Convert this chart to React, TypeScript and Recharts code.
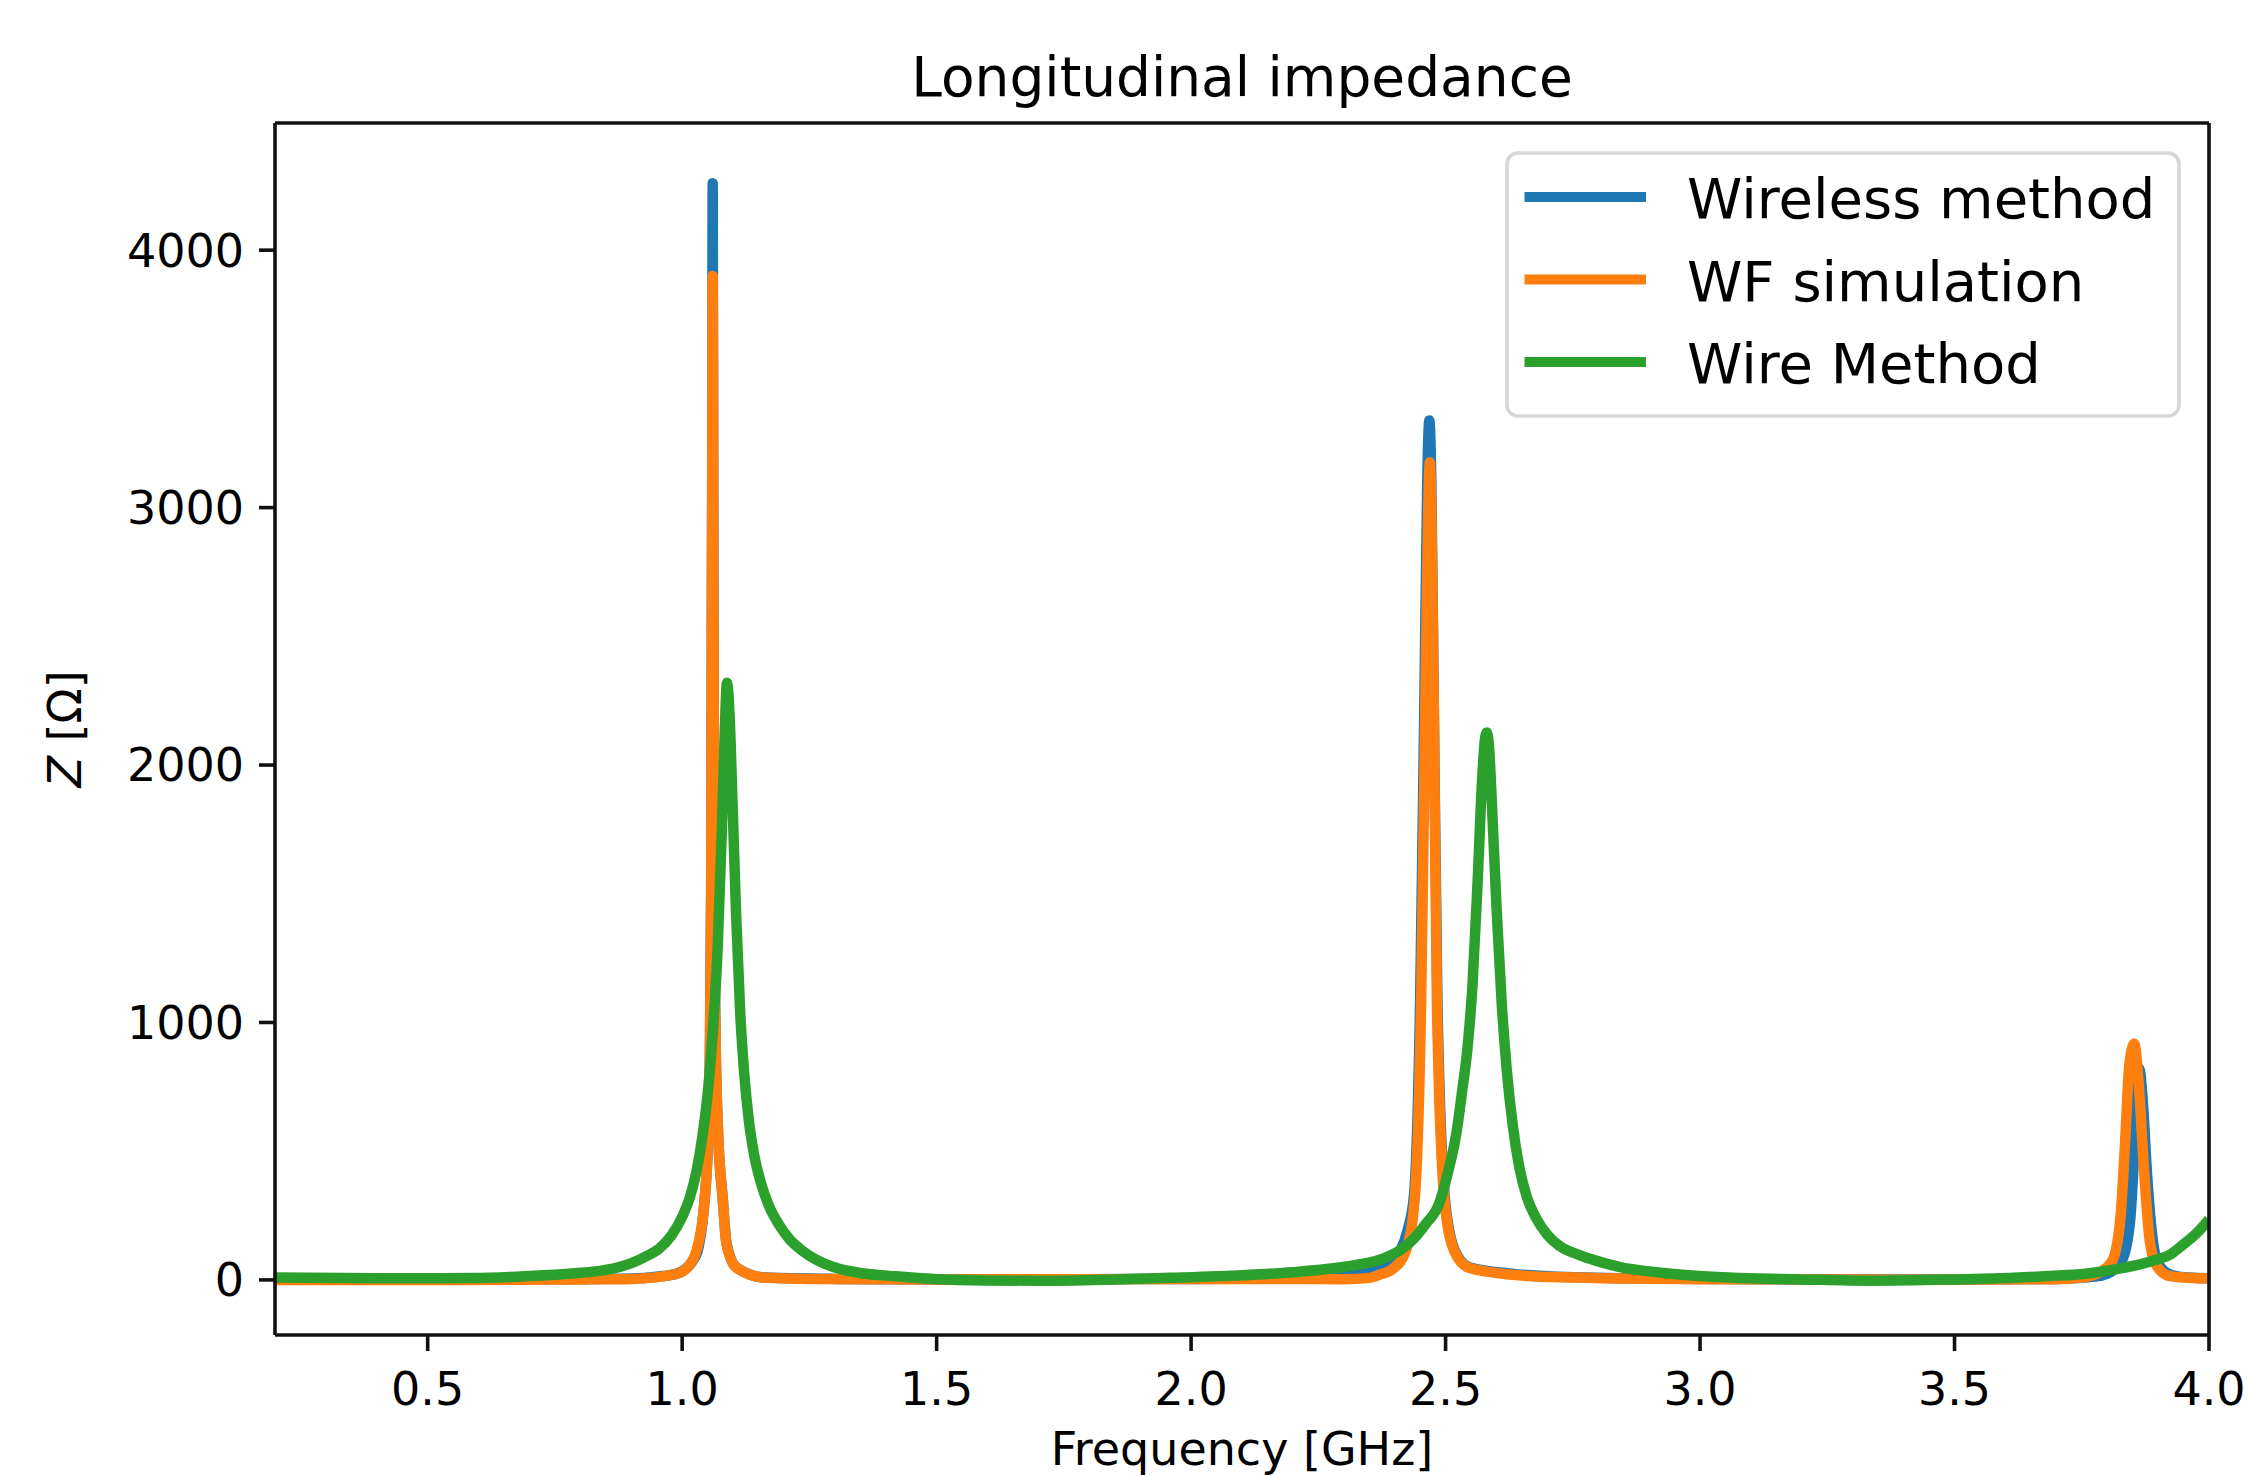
import React from "react";
import { LineChart, Line, XAxis, YAxis, Legend, ReferenceLine, Label } from "recharts";

const W = 2248;
const H = 1476;
const FONT = "'DejaVu Sans', sans-serif";

const X_TICKS = [0.5, 1.0, 1.5, 2.0, 2.5, 3.0, 3.5, 4.0];
const Y_TICKS = [0, 1000, 2000, 3000, 4000];
const X_DOMAIN = [0.2, 4.0];
const Y_DOMAIN = [-214, 4494];

const NAMES = ["Wireless method", "WF simulation", "Wire Method"];
const COLORS = ["#1f77b4", "#ff7f0e", "#2ca02c"];

// Wireless method (blue)
const WIRELESS_F = [
  0.2, 0.4, 0.6, 0.8, 0.9, 0.95, 0.99, 1.02, 1.03, 1.044, 1.05, 1.054, 1.057, 1.059, 1.06, 1.061,
  1.063, 1.066, 1.07, 1.08, 1.087, 1.107, 1.165, 1.3, 1.5, 1.8, 2.0, 2.2, 2.3, 2.35, 2.38, 2.41,
  2.425, 2.438, 2.45, 2.458, 2.464, 2.468, 2.472, 2.477, 2.484, 2.499, 2.518, 2.548, 2.63, 2.72,
  2.9, 3.2, 3.5, 3.7, 3.78, 3.81, 3.83, 3.845, 3.855, 3.863, 3.87, 3.878, 3.888, 3.9, 3.925, 3.96, 4.0,
];
const WIRELESS_Z = [
  1, 1, 2, 3, 5, 12, 25, 72, 110, 310, 500, 800, 1500, 3200, 4260, 3200,
  1500, 900, 600, 310, 145, 48, 9, 4, 2, 3, 4, 8, 18, 32, 55, 110,
  190, 330, 1084, 2200, 3100, 3338, 3100, 2200, 1084, 310, 115, 48, 24, 12,
  5, 2, 2, 4, 14, 35, 80, 230, 560, 820, 690, 420, 180, 65, 20, 9, 6,
];

// WF simulation (orange)
const WF_F = [
  0.2, 0.5, 0.8, 0.902, 0.989, 1.02, 1.028, 1.044, 1.05, 1.054, 1.057, 1.059, 1.06, 1.061, 1.063,
  1.066, 1.07, 1.08, 1.087, 1.107, 1.165, 1.25, 1.5, 2.0, 2.2, 2.3, 2.35, 2.37, 2.396, 2.422, 2.439,
  2.452, 2.46, 2.466, 2.469, 2.472, 2.477, 2.483, 2.498, 2.517, 2.546, 2.632, 2.724, 3.0, 3.4, 3.7,
  3.76, 3.785, 3.81, 3.826, 3.836, 3.843, 3.853, 3.862, 3.872, 3.882, 3.895, 3.921, 3.96, 4.0,
];
const WF_Z = [
  0, 0, 2, 4, 23, 74, 113, 307, 500, 800, 1500, 3000, 3900, 3000, 1500,
  900, 600, 307, 140, 47, 8, 4, 2, 4, 4, 3, 8, 20, 42, 113, 307,
  1084, 2200, 3000, 3175, 3000, 2200, 1084, 307, 113, 47, 20, 10, 3, 1, 3,
  12, 30, 74, 242, 567, 826, 917, 760, 437, 179, 62, 16, 8, 5,
];

// Wire Method (green)
const WIRE_F = [
  0.2, 0.4, 0.59, 0.7, 0.79, 0.83, 0.87, 0.899, 0.93, 0.955, 0.978, 1.0, 1.015, 1.028, 1.04, 1.05,
  1.06, 1.07, 1.078, 1.084, 1.088, 1.093, 1.099, 1.106, 1.114, 1.122, 1.131, 1.142, 1.155, 1.17,
  1.19, 1.211, 1.235, 1.264, 1.3, 1.35, 1.42, 1.54, 1.7, 1.85, 1.96, 2.1, 2.2, 2.28, 2.33, 2.38,
  2.41, 2.435, 2.46, 2.488, 2.505, 2.521, 2.533, 2.543, 2.553, 2.563, 2.572, 2.578, 2.581, 2.585,
  2.591, 2.6, 2.61, 2.62, 2.632, 2.645, 2.66, 2.678, 2.7, 2.724, 2.758, 2.8, 2.843, 2.9, 2.984,
  3.056, 3.2, 3.335, 3.5, 3.616, 3.686, 3.757, 3.818, 3.86, 3.896, 3.925, 3.948, 3.975, 4.0,
];
const WIRE_Z = [
  9, 6, 7, 15, 26, 33, 47, 64, 92, 122, 170, 245, 320, 420, 560, 720,
  960, 1300, 1750, 2150, 2320, 2200, 1850, 1420, 1040, 800, 620, 480, 375, 290,
  215, 158, 115, 78, 48, 27, 14, 0, -3, 2, 8, 18, 30, 45, 60, 85,
  115, 155, 215, 300, 420, 567, 740, 900, 1150, 1550, 1950, 2110, 2126, 2080,
  1850, 1450, 1084, 820, 600, 437, 320, 240, 175, 132, 100, 72, 50, 33, 17,
  9, 2, -3, 2, 8, 15, 24, 42, 58, 78, 100, 135, 180, 235,
];

const zip = (f: number[], z: number[]) => f.map((v, i) => ({ f: v, z: z[i] }));
const SERIES = [zip(WIRELESS_F, WIRELESS_Z), zip(WF_F, WF_Z), zip(WIRE_F, WIRE_Z)];

const tickStyle = { fontSize: 46, fill: "#000", fontFamily: FONT };
const spine = { stroke: "#111", strokeWidth: 3.6 };

const LegendBox = (props: any) => {
  const payload = [...(props.payload || [])].sort(
    (a: any, b: any) => NAMES.indexOf(a.value) - NAMES.indexOf(b.value)
  );
  return (
    <svg width={676} height={267} style={{ display: "block" }}>
      <rect x={2} y={2} width={672} height={263} rx={11} ry={11} fill="#fff" fillOpacity={0.8} stroke="#d6d6d6" strokeWidth={3.5} />
      {payload.map((p: any, i: number) => {
        const cy = 46 + i * 82.5;
        return (
          <g key={p.value}>
            <line x1={19.5} x2={141} y1={cy} y2={cy} stroke={p.color} strokeWidth={10} />
            <text x={182} y={cy + 21} fontSize={56} fontFamily={FONT} fill="#000">
              {p.value}
            </text>
          </g>
        );
      })}
    </svg>
  );
};

export default function App() {
  return (
    <div style={{ position: "absolute", left: 0, top: 0, width: W, height: H, background: "#fff" }}>
      <svg width={W} height={130} style={{ position: "absolute", left: 0, top: 0, pointerEvents: "none" }}>
        <text x={1242} y={96} textAnchor="middle" fontSize={55} fontFamily={FONT} fill="#000">
          Longitudinal impedance
        </text>
      </svg>
      <LineChart width={W} height={H} margin={{ top: 123, right: 39, bottom: 41, left: 175 }}>
        <XAxis
          type="number"
          dataKey="f"
          domain={X_DOMAIN}
          ticks={X_TICKS}
          allowDataOverflow
          height={100}
          tick={tickStyle}
          tickFormatter={(v: number) => v.toFixed(1)}
          tickSize={16}
          tickMargin={21}
          axisLine={spine}
          tickLine={spine}
        >
          <Label
            content={(p: any) => {
              const vb = p.viewBox;
              return (
                <text x={vb.x + vb.width / 2} y={vb.y + 130} textAnchor="middle" fontSize={46} fontFamily={FONT} fill="#000">
                  Frequency [GHz]
                </text>
              );
            }}
          />
        </XAxis>
        <YAxis
          type="number"
          domain={Y_DOMAIN}
          ticks={Y_TICKS}
          allowDataOverflow
          width={100}
          tick={tickStyle}
          tickSize={16}
          tickMargin={15}
          axisLine={spine}
          tickLine={spine}
        >
          <Label
            content={(p: any) => {
              const vb = p.viewBox;
              const x = vb.x + vb.width - 194;
              const y = vb.y + vb.height / 2;
              return (
                <text x={x} y={y} textAnchor="middle" fontSize={46} fontFamily={FONT} fill="#000" transform={`rotate(-90, ${x}, ${y})`}>
                  <tspan fontStyle="italic">Z</tspan> [Ω]
                </text>
              );
            }}
          />
        </YAxis>
        {SERIES.map((d, i) => (
          <Line
            key={NAMES[i]}
            data={d}
            dataKey="z"
            name={NAMES[i]}
            type="monotone"
            stroke={COLORS[i]}
            strokeWidth={10.5}
            strokeLinejoin="round"
            dot={false}
            activeDot={false}
            isAnimationActive={false}
          />
        ))}
        <ReferenceLine y={Y_DOMAIN[1]} stroke="#111" strokeWidth={3.6} />
        <ReferenceLine x={X_DOMAIN[1]} stroke="#111" strokeWidth={3.6} />
        <Legend
          layout="vertical"
          align="center"
          verticalAlign="middle"
          content={LegendBox}
          wrapperStyle={{ left: 1505, top: 151, width: 676, height: 267 }}
        />
      </LineChart>
    </div>
  );
}
